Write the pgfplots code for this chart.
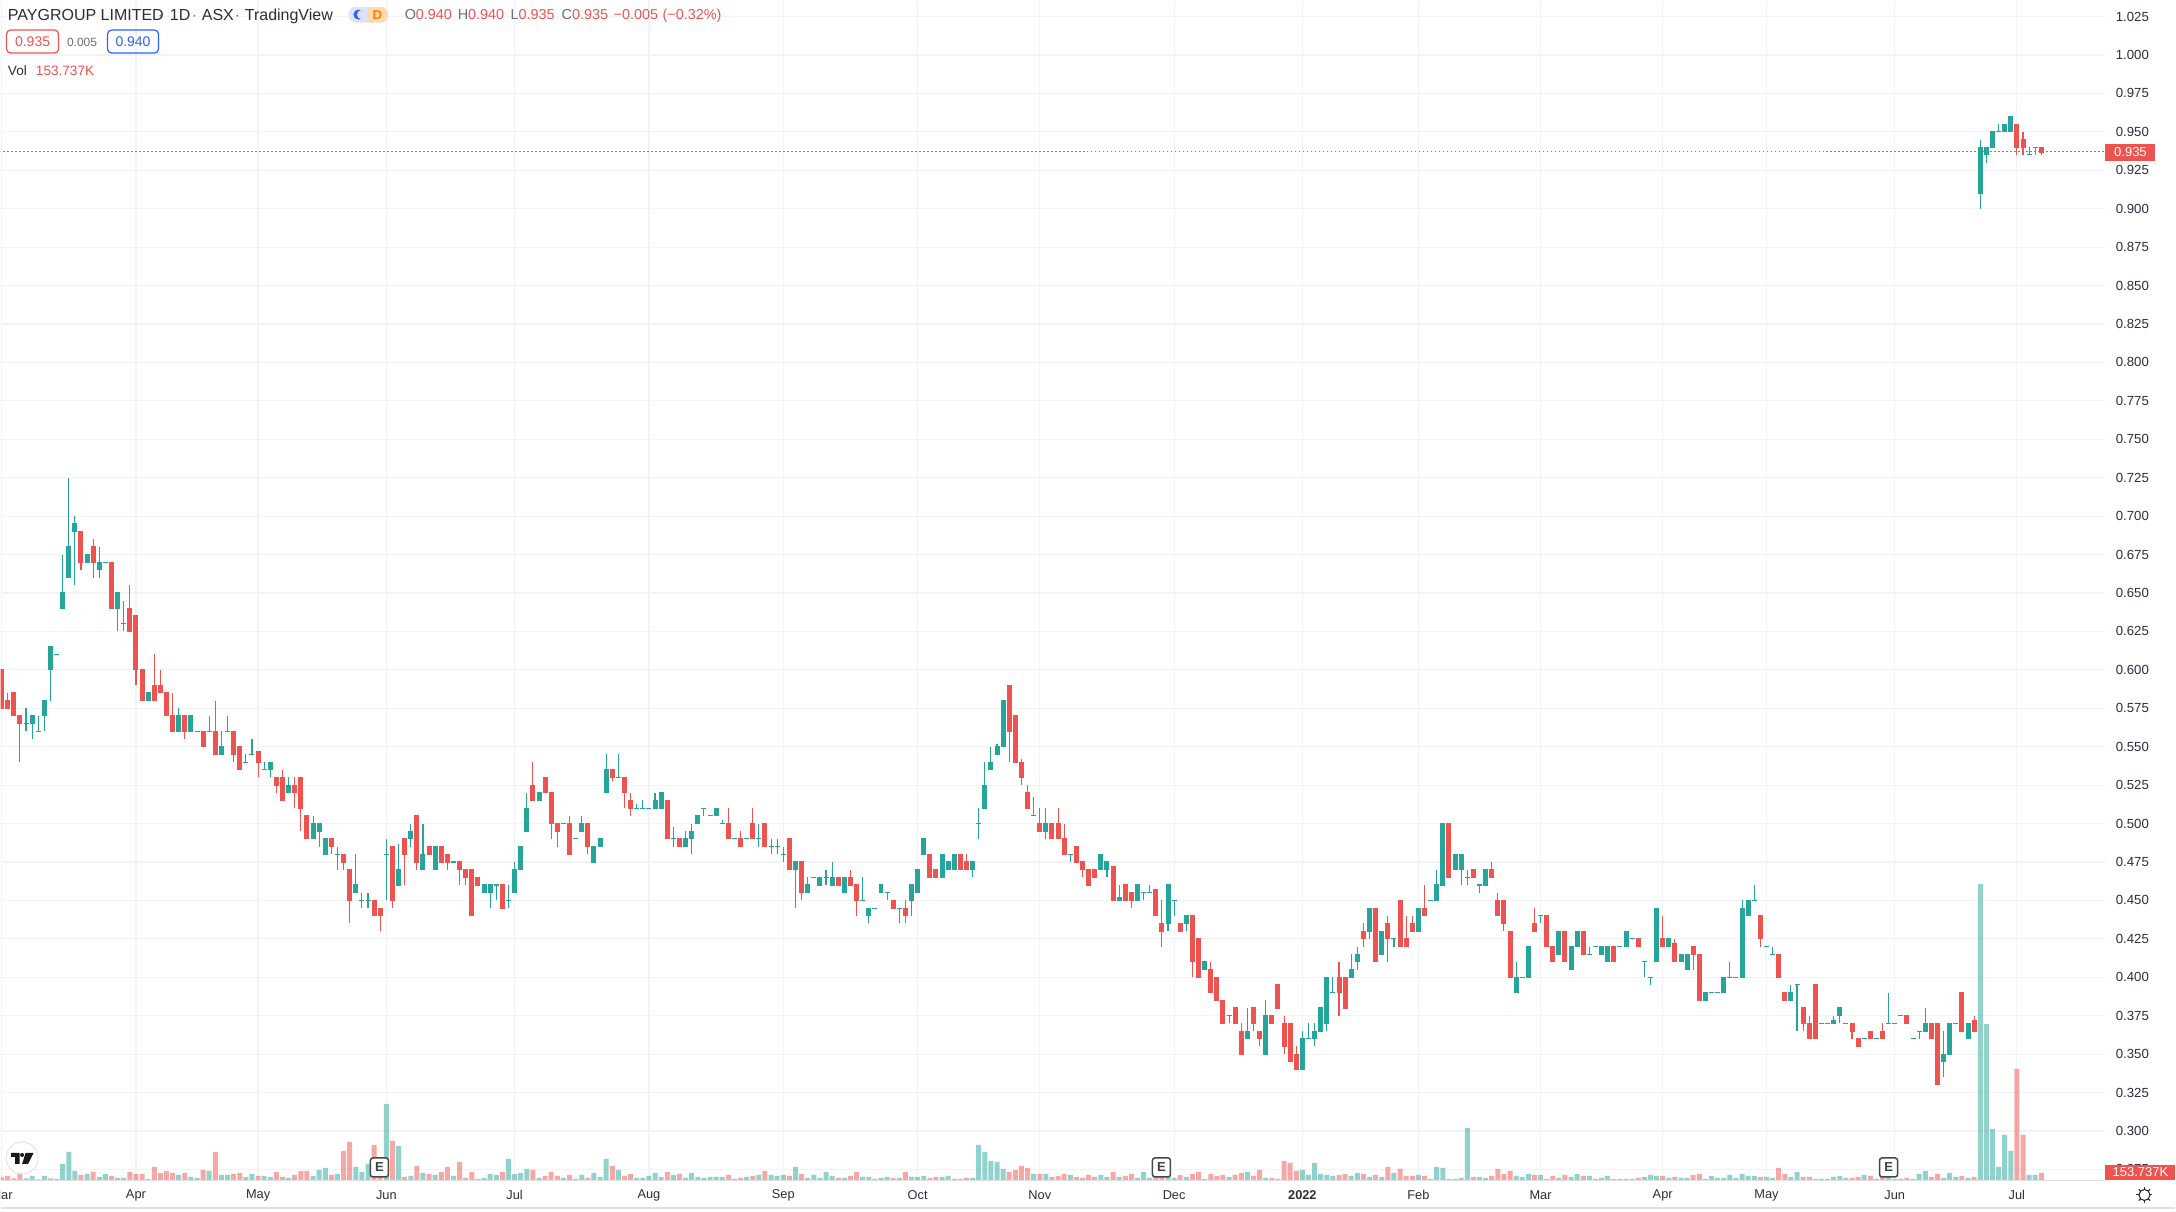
\documentclass[border=0pt]{standalone}
\usepackage{fontspec}
\setmainfont{Liberation Sans}
\usepackage{pgfplots}
\usepackage{pgfplotstable}
\pgfplotsset{compat=1.18}
\definecolor{up}{HTML}{26A69A}
\definecolor{dn}{HTML}{EF5350}
\definecolor{gridc}{HTML}{F2F3F6}
\definecolor{ink}{HTML}{2A2E39}
\definecolor{mut}{HTML}{6A6D78}
\definecolor{hl}{HTML}{2962FF}
\newcommand\fs[1]{\fontsize{#1}{#1}\selectfont}
\pgfplotstableread{
i O H L C V
0 .600 .600 .575 .575 59
1 .58 .585 .575 .575 88
2 .585 .585 .57 .57 37
3 .57 .57 .54 .565 132
4 .565 .575 .56 .565 37
5 .565 .57 .555 .57 88
6 .56 .57 .56 .56 15
7 .57 .58 .56 .58 88
8 .60 .615 .58 .615 37
9 .61 .61 .61 .61 22
10 .64 .675 .64 .65 351
11 .66 .725 .66 .68 615
12 .69 .70 .655 .695 198
13 .69 .69 .665 .67 110
14 .67 .675 .67 .675 132
15 .68 .685 .66 .67 176
16 .665 .68 .66 .67 66
17 .67 .67 .67 .67 132
18 .67 .67 .64 .64 88
19 .64 .65 .625 .65 44
20 .63 .645 .625 .63 44
21 .64 .655 .625 .625 176
22 .635 .635 .59 .60 132
23 .60 .60 .58 .58 132
24 .58 .585 .58 .585 22
25 .59 .61 .58 .58 285
26 .59 .60 .585 .585 154
27 .585 .585 .57 .57 198
28 .57 .585 .56 .56 154
29 .56 .575 .56 .57 110
30 .57 .57 .555 .56 154
31 .56 .57 .56 .57 66
32 .56 .56 .56 .56 44
33 .56 .56 .55 .55 220
34 .56 .57 .56 .56 198
35 .56 .58 .545 .545 615
36 .545 .56 .545 .55 110
37 .56 .57 .56 .56 110
38 .56 .56 .54 .545 132
39 .55 .55 .535 .535 154
40 .54 .545 .54 .54 66
41 .545 .555 .545 .545 132
42 .547 .547 .53 .54 88
43 .535 .54 .535 .535 88
44 .535 .54 .53 .54 66
45 .53 .53 .52 .525 176
46 .53 .535 .515 .515 66
47 .52 .53 .52 .525 44
48 .525 .53 .51 .52 110
49 .53 .53 .495 .51 198
50 .505 .505 .49 .49 198
51 .49 .505 .49 .50 88
52 .495 .50 .485 .50 220
53 .48 .49 .48 .49 264
54 .49 .49 .48 .485 110
55 .48 .485 .47 .48 132
56 .48 .48 .47 .475 637
57 .47 .47 .435 .45 834
58 .455 .48 .455 .46 285
59 .45 .455 .445 .45 176
60 .45 .455 .445 .45 351
61 .45 .45 .44 .44 769
62 .445 .445 .43 .44 146
63 .48 .49 .45 .48 1669
64 .485 .485 .445 .45 856
65 .46 .487 .46 .47 747
66 .49 .49 .46 .48 66
67 .49 .50 .485 .495 88
68 .505 .505 .47 .475 307
69 .47 .50 .47 .48 154
70 .485 .485 .48 .48 132
71 .47 .485 .47 .485 110
72 .485 .485 .475 .475 176
73 .48 .48 .47 .475 285
74 .475 .475 .475 .475 88
75 .475 .475 .46 .47 395
76 .47 .47 .46 .465 44
77 .47 .47 .44 .44 176
78 .465 .465 .46 .46 22
79 .455 .46 .455 .46 44
80 .455 .46 .445 .46 132
81 .46 .46 .45 .46 110
82 .46 .46 .445 .445 176
83 .45 .46 .445 .45 461
84 .455 .475 .455 .47 132
85 .47 .485 .47 .485 154
86 .495 .52 .495 .51 242
87 .525 .54 .515 .515 220
88 .515 .52 .515 .52 44
89 .53 .53 .52 .52 88
90 .52 .52 .49 .50 176
91 .50 .50 .485 .495 88
92 .50 .50 .50 .50 44
93 .50 .505 .48 .48 110
94 .49 .49 .49 .49 22
95 .495 .505 .495 .50 110
96 .50 .50 .48 .485 44
97 .475 .485 .475 .485 154
98 .485 .49 .485 .49 66
99 .52 .545 .52 .535 461
100 .535 .535 .5275 .53 307
101 .53 .545 .53 .53 220
102 .53 .53 .51 .52 88
103 .515 .52 .505 .51 132
104 .51 .5125 .51 .51 44
105 .51 .515 .51 .51 44
106 .51 .51 .51 .51 88
107 .51 .52 .51 .515 154
108 .51 .52 .51 .52 66
109 .515 .515 .49 .49 176
110 .49 .4975 .485 .49 110
111 .49 .49 .485 .485 132
112 .485 .495 .485 .49 44
113 .49 .50 .48 .495 154
114 .50 .505 .50 .505 66
115 .51 .51 .505 .51 44
116 .505 .505 .505 .505 66
117 .505 .51 .505 .51 66
118 .50 .502 .50 .50 66
119 .50 .51 .49 .49 110
120 .49 .49 .49 .49 22
121 .49 .495 .485 .485 44
122 .49 .49 .49 .49 66
123 .50 .51 .49 .49 88
124 .49 .50 .485 .49 110
125 .50 .50 .485 .485 198
126 .485 .49 .48 .485 110
127 .485 .49 .48 .485 88
128 .48 .485 .475 .48 110
129 .49 .49 .47 .47 88
130 .47 .475 .445 .475 285
131 .475 .475 .45 .455 132
132 .455 .465 .455 .46 44
133 .465 .465 .465 .465 110
134 .46 .465 .46 .465 44
135 .465 .47 .46 .465 176
136 .46 .475 .46 .465 88
137 .465 .465 .46 .46 44
138 .455 .465 .455 .465 44
139 .465 .47 .46 .46 88
140 .46 .46 .44 .45 176
141 .45 .465 .45 .45 66
142 .44 .445 .435 .445 66
143 .445 .445 .445 .445 22
144 .455 .46 .455 .46 44
145 .455 .455 .45 .455 66
146 .45 .45 .445 .445 44
147 .445 .445 .435 .445 44
148 .445 .45 .435 .44 176
149 .45 .46 .44 .46 66
150 .455 .47 .455 .47 66
151 .48 .49 .48 .49 88
152 .48 .48 .465 .465 44
153 .47 .47 .465 .465 66
154 .465 .48 .465 .48 66
155 .47 .475 .47 .475 88
156 .47 .48 .47 .48 22
157 .48 .48 .47 .47 22
158 .475 .48 .47 .47 44
159 .47 .475 .465 .475 44
160 .50 .51 .49 .50 769
161 .51 .54 .51 .525 615
162 .535 .55 .535 .54 417
163 .545 .552 .545 .55 395
164 .55 .58 .55 .58 242
165 .59 .59 .54 .56 176
166 .57 .57 .54 .54 220
167 .54 .542 .525 .53 307
168 .52 .525 .51 .51 264
169 .505 .517 .505 .505 132
170 .50 .51 .495 .495 132
171 .495 .51 .49 .50 132
172 .50 .50 .49 .49 66
173 .50 .51 .49 .49 88
174 .49 .50 .48 .48 132
175 .48 .48 .475 .48 110
176 .485 .485 .475 .475 66
177 .475 .475 .465 .47 44
178 .47 .47 .46 .46 110
179 .47 .47 .465 .465 66
180 .47 .48 .47 .48 110
181 .47 .475 .465 .475 66
182 .472 .472 .45 .45 176
183 .45 .46 .45 .452 66
184 .46 .46 .45 .45 88
185 .455 .455 .445 .45 132
186 .45 .46 .45 .46 44
187 .455 .455 .45 .455 176
188 .455 .46 .455 .455 44
189 .457 .457 .44 .44 66
190 .435 .45 .42 .43 66
191 .435 .46 .43 .46 66
192 .45 .45 .44 .45 44
193 .435 .435 .43 .43 110
194 .435 .44 .43 .44 66
195 .44 .44 .40 .41 132
196 .425 .425 .40 .40 176
197 .405 .41 .405 .41 22
198 .405 .41 .39 .39 132
199 .40 .40 .385 .385 88
200 .385 .385 .37 .37 110
201 .375 .375 .37 .375 66
202 .38 .38 .37 .37 110
203 .365 .37 .35 .35 154
204 .36 .38 .36 .365 176
205 .38 .38 .365 .37 88
206 .365 .365 .355 .36 220
207 .35 .385 .35 .375 44
208 .375 .375 .37 .37 44
209 .395 .395 .38 .38 22
210 .37 .375 .35 .355 417
211 .37 .37 .345 .345 373
212 .35 .355 .34 .34 198
213 .34 .365 .34 .36 220
214 .36 .37 .36 .36 110
215 .36 .37 .355 .365 373
216 .365 .38 .365 .38 132
217 .37 .40 .365 .40 110
218 .39 .40 .39 .39 88
219 .40 .41 .375 .39 110
220 .40 .40 .38 .38 132
221 .40 .415 .40 .405 88
222 .41 .42 .405 .415 154
223 .43 .435 .42 .425 132
224 .43 .445 .425 .445 66
225 .445 .445 .41 .41 110
226 .415 .43 .415 .43 66
227 .435 .44 .41 .425 285
228 .425 .425 .42 .425 154
229 .45 .45 .42 .42 242
230 .425 .44 .42 .42 88
231 .435 .44 .43 .43 88
232 .43 .445 .43 .445 110
233 .445 .46 .44 .44 88
234 .45 .45 .45 .45 22
235 .45 .47 .45 .46 285
236 .46 .50 .46 .50 264
237 .50 .50 .465 .465 22
238 .47 .48 .47 .48 22
239 .47 .48 .46 .48 44
240 .465 .47 .46 .465 1142
241 .47 .47 .465 .465 66
242 .46 .46 .455 .46 66
243 .46 .47 .46 .47 44
244 .47 .475 .465 .465 88
245 .45 .455 .44 .44 242
246 .45 .45 .43 .435 132
247 .43 .43 .40 .40 198
248 .39 .41 .39 .40 88
249 .40 .40 .40 .40 66
250 .40 .42 .40 .42 132
251 .435 .445 .43 .43 110
252 .44 .44 .435 .44 110
253 .44 .44 .42 .42 22
254 .42 .42 .41 .41 88
255 .415 .43 .415 .43 44
256 .43 .43 .41 .41 110
257 .405 .42 .405 .42 66
258 .42 .43 .42 .43 132
259 .43 .43 .415 .415 88
260 .415 .42 .415 .415 88
261 .42 .42 .42 .42 22
262 .415 .42 .415 .42 44
263 .41 .42 .41 .42 88
264 .42 .42 .41 .41 22
265 .42 .42 .42 .42 22
266 .42 .43 .42 .43 22
267 .425 .425 .425 .425 22
268 .425 .425 .42 .42 44
269 .41 .41 .40 .41 66
270 .40 .40 .395 .40 110
271 .41 .445 .41 .445 88
272 .425 .44 .42 .42 88
273 .42 .425 .42 .425 44
274 .422 .425 .41 .41 66
275 .41 .415 .41 .415 44
276 .405 .415 .405 .415 44
277 .42 .42 .405 .415 110
278 .415 .415 .385 .385 132
279 .385 .39 .385 .39 22
280 .39 .39 .39 .39 88
281 .39 .39 .39 .39 44
282 .39 .40 .39 .40 44
283 .40 .41 .40 .40 110
284 .40 .40 .40 .40 44
285 .40 .45 .40 .445 132
286 .44 .45 .44 .45 88
287 .45 .46 .45 .45 88
288 .44 .44 .42 .425 66
289 .42 .42 .42 .42 66
290 .415 .42 .415 .415 44
291 .415 .415 .40 .40 264
292 .39 .39 .385 .385 132
293 .385 .395 .385 .39 66
294 .395 .395 .365 .395 176
295 .38 .38 .365 .37 66
296 .37 .375 .36 .36 66
297 .395 .395 .36 .36 22
298 .37 .37 .37 .37 22
299 .37 .37 .37 .37 22
300 .37 .375 .37 .372 66
301 .375 .38 .37 .38 88
302 .37 .37 .37 .37 44
303 .37 .37 .36 .365 44
304 .36 .36 .355 .355 66
305 .36 .36 .36 .36 110
306 .365 .365 .36 .36 88
307 .36 .36 .36 .36 22
308 .365 .37 .36 .36 66
309 .37 .39 .37 .37 66
310 .37 .37 .37 .37 22
311 .375 .375 .375 .375 22
312 .375 .375 .37 .37 44
313 .36 .36 .36 .36 22
314 .365 .365 .36 .365 132
315 .365 .38 .365 .37 198
316 .37 .37 .36 .36 66
317 .37 .37 .33 .33 132
318 .345 .365 .335 .35 44
319 .35 .37 .35 .37 154
320 .37 .37 .37 .37 66
321 .39 .39 .365 .365 88
322 .36 .37 .36 .37 44
323 .372 .375 .365 .365 66
324 .91 .945 .90 .94 6500
325 .935 .94 .93 .94 3426
326 .94 .95 .94 .95 1120
327 .95 .955 .95 .95 285
328 .95 .955 .95 .955 988
329 .95 .96 .95 .96 637
330 .955 .955 .935 .94 2438
331 .945 .95 .935 .94 988
332 .935 .94 .935 .935 110
333 .94 .94 .935 .94 110
334 .94 .94 .935 .9365 154
}\ohlc
\pgfplotsset{
  pane/.style={scale only axis,width=1053pt,height=590pt,at={(0pt,-590pt)},anchor=south west,
    xmin=-0.1637,xmax=344.5},
  wick/.style={draw=none,mark=none,forget plot,error bars/.cd,y dir=plus,y explicit,error mark=none,
    error bar style={draw=#1,solid,line width=.55pt}},
  body/.style={draw=none,mark=none,forget plot,error bars/.cd,y dir=plus,y explicit,error mark=none,
    error bar style={draw=#1,solid,line width=2.5pt}},
  vol/.style={ybar,bar shift=0pt,bar width=2.5pt,draw=none,fill=#1,fill opacity=.5,forget plot},
}
\begin{document}
\begin{tikzpicture}
\begin{scope}[x=.5pt,y=-.5pt]
\useasboundingbox (0,0) rectangle (2176,1212);
\fill[white] (0,0) rectangle (2176,1212);
\end{scope}
\begin{axis}[pane,ymin=0.26814,ymax=1.03537,
  scaled ticks=false,
  axis line style={draw=none},tick style={draw=none},major tick length=0pt,
  grid=major,grid style={draw=gridc,line width=.6pt},
  xtick={0,22,42,63,84,106,128,150,170,192,213,232,252,272,289,310,330},
  xticklabels={{\makebox[0pt]{Mar}},Apr,May,Jun,Jul,Aug,Sep,Oct,Nov,Dec,{\textbf{2022}},Feb,Mar,Apr,May,Jun,Jul},
  ytick={0.275,0.3,0.325,0.35,0.375,0.4,0.425,0.45,0.475,0.5,0.525,0.55,0.575,0.6,0.625,0.65,0.675,0.7,0.725,0.75,0.775,0.8,0.825,0.85,0.875,0.9,0.925,0.95,0.975,1,1.025},
  ytick pos=right,yticklabel pos=right,
  yticklabel style={anchor=west,inner sep=0pt,xshift=5pt,text=ink,font=\fs{6.6},
    /pgf/number format/.cd,fixed,fixed zerofill,precision=3,assume math mode=true},
  xticklabel style={anchor=center,inner sep=0pt,yshift=-7.5pt,text=ink,font=\fs{6.4}},
]
\addplot[wick=up] table[x expr={\thisrow{C}>=\thisrow{O}?\thisrow{i}:nan},y=L,y error plus expr={\thisrow{H}-\thisrow{L}}] {\ohlc};
\addplot[wick=dn] table[x expr={\thisrow{C}<\thisrow{O}?\thisrow{i}:nan},y=L,y error plus expr={\thisrow{H}-\thisrow{L}}] {\ohlc};
\addplot[body=up] table[x expr={\thisrow{C}>=\thisrow{O}?\thisrow{i}:nan},y expr={\thisrow{O}-0.00035},y error plus expr={\thisrow{C}-\thisrow{O}+0.0007}] {\ohlc};
\addplot[body=dn] table[x expr={\thisrow{C}<\thisrow{O}?\thisrow{i}:nan},y expr={\thisrow{C}-0.00035},y error plus expr={\thisrow{O}-\thisrow{C}+0.0007}] {\ohlc};
\addplot[dn,line width=.5pt,dash pattern=on .8pt off 1.2pt,forget plot] coordinates {(-1,0.937)(345,0.937)};
\end{axis}
\begin{axis}[pane,ymin=0,ymax=25913,hide axis]
\addplot[vol=up] table[x expr={\thisrow{C}>=\thisrow{O}?\thisrow{i}:nan},y=V] {\ohlc};
\addplot[vol=dn] table[x expr={\thisrow{C}<\thisrow{O}?\thisrow{i}:nan},y=V] {\ohlc};
\end{axis}
\begin{scope}[x=.5pt,y=-.5pt]
% frame lines
\draw[draw=black!12!white,line width=.6pt] (0,1180.5)--(2106,1180.5);
\draw[draw=black!12!white,line width=.6pt] (0,1208)--(2176,1208);
% price tags
\fill[dn] (2106,143) rectangle (2156,160);
\node[text=white,font=\fs{6.5},inner sep=0pt] at (2131,151.5) {0.935};
\fill[dn] (2106,1165) rectangle (2176,1180);
\node[text=white,font=\fs{6.5},inner sep=0pt] at (2141,1172.5) {153.737K};
% header
\node[anchor=base west,inner sep=0pt,text=ink,font=\fs{8}] at (7,19.5) {PAYGROUP LIMITED};
\node[anchor=base,inner sep=0pt,text=mut,font=\fs{8}] at (160,19.5) {·};
\node[anchor=base west,inner sep=0pt,text=ink,font=\fs{8}] at (169,19.5) {1D};
\node[anchor=base,inner sep=0pt,text=mut,font=\fs{8}] at (194,19.5) {·};
\node[anchor=base west,inner sep=0pt,text=ink,font=\fs{8}] at (201,19.5) {ASX};
\node[anchor=base,inner sep=0pt,text=mut,font=\fs{8}] at (237,19.5) {·};
\node[anchor=base west,inner sep=0pt,text=ink,font=\fs{8}] at (244,19.5) {TradingView};
\begin{scope}
\clip[rounded corners=4pt] (348,6) rectangle (388,22);
\fill[blue!12!white] (348,6) rectangle (368,22);
\fill[orange!30!white] (368,6) rectangle (388,22);
\end{scope}
\fill[hl] (358,14) circle[radius=5];
\fill[blue!12!white] (361,14) circle[radius=4.4];
\node[inner sep=0pt,text=orange,font=\fs{6.5}\bfseries] at (377,14) {D};
\node[anchor=base west,inner sep=0pt,font=\fs{7.2}] at (404,19) {\textcolor{mut}{O}\textcolor{dn}{0.940}};
\node[anchor=base west,inner sep=0pt,font=\fs{7.2}] at (457,19) {\textcolor{mut}{H}\textcolor{dn}{0.940}};
\node[anchor=base west,inner sep=0pt,font=\fs{7.2}] at (510,19) {\textcolor{mut}{L}\textcolor{dn}{0.935}};
\node[anchor=base west,inner sep=0pt,font=\fs{7.2}] at (561,19) {\textcolor{mut}{C}\textcolor{dn}{0.935}};
\node[anchor=base west,inner sep=0pt,text=dn,font=\fs{7.2}] at (613,19) {−0.005};
\node[anchor=base west,inner sep=0pt,text=dn,font=\fs{7.2}] at (662,19) {(−0.32\%)};
\draw[dn,line width=.6pt,rounded corners=2pt] (6,29.5) rectangle (58,52.5);
\node[text=dn,inner sep=0pt,font=\fs{7}] at (32,41) {0.935};
\node[text=mut,inner sep=0pt,font=\fs{6}] at (81.5,42) {0.005};
\draw[hl,line width=.6pt,rounded corners=2pt] (107,29.5) rectangle (158,52.5);
\node[text=hl,inner sep=0pt,font=\fs{7}] at (132.5,41) {0.940};
\node[anchor=base west,inner sep=0pt,text=ink,font=\fs{6.8}] at (7,75) {Vol};
\node[anchor=base west,inner sep=0pt,text=dn,font=\fs{6.8}] at (35,75) {153.737K};
% earnings markers
\foreach \ex in {379,1161.5,1889}{
  \draw[draw=black!72!white,fill=white,line width=.75pt,rounded corners=1.2pt] (\ex-9,1158) rectangle (\ex+9,1177);
  \node[inner sep=0pt,text=black!75!white,font=\fs{6.5}\bfseries] at (\ex,1167.5) {E};
}
% logo
\draw[draw=black!10!white,fill=white,line width=.5pt] (21.5,1158) circle[radius=16];
\fill[black!90!white] (10.5,1153)--(19,1153)--(19,1164)--(14.5,1164)--(14.5,1157)--(10.5,1157)--cycle;
\fill[black!90!white] (21.5,1155) circle[radius=2];
\fill[black!90!white] (25,1153)--(33,1153)--(27.5,1164)--(21.5,1164)--cycle;
% gear
\draw[ink,line width=.55pt] (2145,1195) circle[radius=5.5];
\foreach \a in {0,45,...,315}{\draw[ink,line width=.55pt] (2145,1195)++(\a:5.5)--++(\a:2.5);}
\end{scope}
\end{tikzpicture}
\end{document}
